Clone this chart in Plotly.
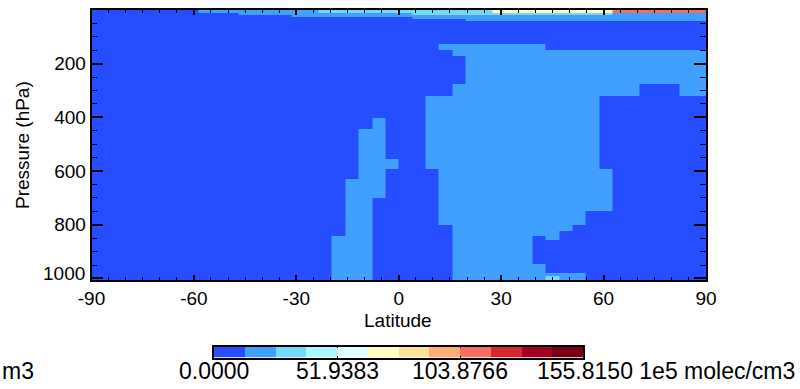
import numpy as np
import plotly.graph_objects as go

W, H = 800, 389

# ---------------- data ----------------
# latitude cell edges (46 equal-width bands)
lat_edges = list(np.linspace(-90, 90, 47))
# pressure edges (hPa), top of atmosphere -> surface
pres_edges = [0, 10, 13, 18, 26, 32, 40, 126, 150, 171, 277, 320, 401, 442,
              554, 592, 630, 699, 750, 800, 822, 841, 856, 946, 978, 992, 1005.65]

# estimated concentration (1e5 molec/cm3) of each colour class seen in the picture
class_values = [6.5, 19.5, 32.4, 45.4, 58.4, 71.4, 84.4, 97.4, 110.4, 123.4, 136.3, 149.3]

# one string per pressure band (top -> bottom), one character per latitude band (S -> N)
rows = [
    "0000000011111111122222222222225555555558888888",  # 0-10
    "0000000011122222233333333333334444444444444444",  # 10-13
    "0000000000011111111111112222222222222221111111",  # 13-18
    "0000000000000001111111111111111111111111111111",  # 18-26
    "0000000000000000000000001111111111111111111111",  # 26-32
    "0000000000000000000000000000111111111111111111",  # 32-40
    "0000000000000000000000000000000000000000000000",  # 40-126
    "0000000000000000000000000011111111000000000000",  # 126-150
    "0000000000000000000000000001111111111111111111",  # 150-171
    "0000000000000000000000000000111111111111111111",  # 171-277
    "0000000000000000000000000001111111111111100011",  # 277-320
    "0000000000000000000000000111111111111100000000",  # 320-401
    "0000000000000000000001000111111111111100000000",  # 401-442
    "0000000000000000000011000111111111111100000000",  # 442-554
    "0000000000000000000011100111111111111100000000",  # 554-592
    "0000000000000000000011000011111111111110000000",  # 592-630
    "0000000000000000000111000011111111111110000000",  # 630-699
    "0000000000000000000110000011111111111110000000",  # 699-750
    "0000000000000000000110000011111111111000000000",  # 750-800
    "0000000000000000000110000001111111110000000000",  # 800-822
    "0000000000000000000110000001111111100000000000",  # 822-841
    "0000000000000000001110000001111110100000000000",  # 841-856
    "0000000000000000001110000001111110000000000000",  # 856-946
    "0000000000000000001110000001111111000000000000",  # 946-978
    "0000000000000000001110000001111111111000000000",  # 978-992
    "0000000000000000001110000001111111211000000000",  # 992-1005.65
]

lat_ticks = [-90, -60, -30, 0, 30, 60, 90]
lat_ticklabels = ["-90", "-60", "-30", "0", "30", "60", "90"]
pres_ticks = [200, 400, 600, 800, 1000]
pres_ticklabels = ["200", "400", "600", "800", "1000"]

zmin, zmax = 0.0, 155.815
n_cls = 12
cls_edges = list(np.linspace(zmin, zmax, n_cls + 1))
cb_ticks = [0.0, 51.9383, 103.8766, 155.815]
cb_labels = ["0.0000", "51.9383", "103.8766", "155.8150"]
unit = "1e5 molec/cm3"

colors = ["#264dff", "#3fa0ff", "#72d9ff", "#aaf7ff", "#e0ffff", "#ffffbf",
          "#ffe099", "#ffad72", "#f76d5e", "#d82632", "#a50021", "#780016"]

# ---------------- figure ----------------
z = [[class_values[int(ch)] for ch in r] for r in rows]

cs = []
for i, c in enumerate(colors):
    cs.append([i / n_cls, c])
    cs.append([(i + 1) / n_cls, c])

fig = go.Figure()
fig.add_trace(go.Heatmap(x=lat_edges, y=pres_edges, z=z, colorscale=cs,
                         zmin=zmin, zmax=zmax, showscale=False, hoverinfo="skip",
                         xaxis="x", yaxis="y"))
cb_z = [[(cls_edges[i] + cls_edges[i + 1]) / 2 for i in range(n_cls)]]
fig.add_trace(go.Heatmap(x=cls_edges, y=[0, 1], z=cb_z, colorscale=cs,
                         zmin=zmin, zmax=zmax, showscale=False, hoverinfo="skip",
                         xaxis="x2", yaxis="y2"))

def px(x):
    return x / W

def py(y):
    return 1 - y / H

FONT = "Liberation Sans, Arial, sans-serif"
tickfont = dict(family=FONT, size=19, color="black")

fig.update_layout(
    template="none",
    width=W, height=H, margin=dict(l=0, r=0, t=0, b=0, autoexpand=False),
    paper_bgcolor="white", plot_bgcolor="white", showlegend=False,
    xaxis=dict(domain=[px(91.5), px(706)], range=[-90, 90], anchor="y",
               tickvals=lat_ticks, ticktext=lat_ticklabels, ticks="inside", ticklen=5,
               tickwidth=1.5, tickcolor="black", mirror="allticks", showline=True,
               linecolor="black", linewidth=1.5, showgrid=False, zeroline=False,
               tickfont=tickfont, automargin=False,
               minor=dict(dtick=5, ticks="inside", ticklen=3, tickcolor="black",
                          tickwidth=1, showgrid=False)),
    yaxis=dict(domain=[py(280), py(10)], range=[1005.65, 0], anchor="x",
               tickvals=pres_ticks, ticktext=pres_ticklabels[:-1] + [""],
               ticks="inside", ticklen=12,
               tickwidth=1.5, tickcolor="black", mirror="allticks", showline=True,
               linecolor="black", linewidth=1.5, showgrid=False, zeroline=False,
               tickfont=tickfont, automargin=False,
               minor=dict(dtick=50, ticks="inside", ticklen=6, tickcolor="black",
                          tickwidth=1, showgrid=False)),
    xaxis2=dict(domain=[px(214), px(583)], range=[zmin, zmax], anchor="y2",
                tickvals=cb_ticks[1:3], ticks="inside", ticklen=2, tickcolor="black",
                mirror="allticks", showline=True, linecolor="black", linewidth=1.5,
                showticklabels=False, showgrid=False, zeroline=False, automargin=False),
    yaxis2=dict(domain=[py(357.5), py(346.5)], range=[0, 1], anchor="x2",
                showline=True, mirror=True, linecolor="black", linewidth=1.5,
                showticklabels=False, ticks="", showgrid=False, zeroline=False,
                automargin=False),
)

ann = []
# bottom pressure label sits slightly above its tick (kept inside the frame height)
ann.append(dict(text=pres_ticklabels[-1], x=px(87), y=pres_ticks[-1], xref="paper",
                yref="y", yshift=5, showarrow=False, font=tickfont,
                xanchor="right", yanchor="middle"))
ann.append(dict(text="Pressure (hPa)", x=px(22), y=py(145), xref="paper", yref="paper",
                showarrow=False, textangle=-90, font=dict(family=FONT, size=19, color="black"),
                xanchor="center", yanchor="middle"))
ann.append(dict(text="Latitude", x=px(398), y=py(320), xref="paper", yref="paper",
                showarrow=False, font=dict(family=FONT, size=19, color="black"),
                xanchor="center", yanchor="middle"))
cbfont = dict(family=FONT, size=23, color="black")
cb_px = [214, 337, 460, 583]
for v, lab in zip(cb_px[:3], cb_labels[:3]):
    ann.append(dict(text=lab, x=px(v), y=py(371), xref="paper", yref="paper",
                    showarrow=False, font=cbfont, xanchor="center", yanchor="middle"))
ann.append(dict(text=cb_labels[3] + " " + unit, x=px(535), y=py(371), xref="paper",
                yref="paper", showarrow=False, font=cbfont, xanchor="left", yanchor="middle"))
# only the tail of the left-hand unit label is visible in the original
ann.append(dict(text=unit[-2:], x=px(0), y=py(371), xref="paper", yref="paper",
                showarrow=False, font=cbfont, xanchor="left", yanchor="middle"))
fig.update_layout(annotations=ann)

fig.write_html("out.html", post_script="document.body.style.margin='0';",
               config={"displayModeBar": False})
